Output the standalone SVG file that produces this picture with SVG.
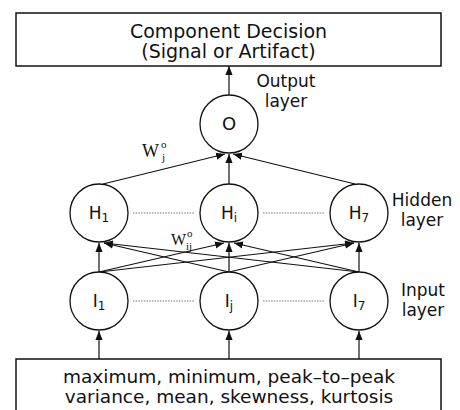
<svg xmlns="http://www.w3.org/2000/svg" width="460" height="410" viewBox="0 0 460 410">
<style>
  .box { fill: #fff; stroke: #111; stroke-width: 1.5; }
  .node circle { fill: #fff; stroke: #111; stroke-width: 1.3; }
  .lbl { font-family: "DejaVu Sans", "Liberation Sans", sans-serif; fill: #111; }
  .ser { font-family: "Liberation Serif", "Times New Roman", serif; fill: #111; }
  .edge { stroke: #111; stroke-width: 1.2; fill: none; marker-end: url(#arr); }
  .dot { stroke: #777; stroke-width: 1; stroke-dasharray: 1.5 1.2; fill: none; }
</style>
<defs>
  <marker id="arr" viewBox="0 0 10 8" refX="10" refY="4" markerWidth="9" markerHeight="7.5" markerUnits="userSpaceOnUse" orient="auto">
    <path d="M0,0 L10,4 L0,8 z" fill="#111"/>
  </marker>
</defs>
<rect width="460" height="410" fill="#fff"/>

<g id="decision">
  <rect class="box" x="16" y="13" width="425" height="53"/>
  <text class="lbl" x="228.5" y="38" font-size="19" text-anchor="middle">Component Decision</text>
  <text class="lbl" x="228.5" y="58" font-size="19" text-anchor="middle">(Signal or Artifact)</text>
</g>

<g id="features">
  <rect class="box" x="16" y="359" width="425" height="60"/>
  <text class="lbl" x="229" y="383" font-size="18.5" text-anchor="middle">maximum, minimum, peak–to–peak</text>
  <text class="lbl" x="229" y="403" font-size="18.5" text-anchor="middle">variance, mean, skewness, kurtosis</text>
</g>

<g id="layer-labels">
  <text class="lbl" x="286" y="87" font-size="17" text-anchor="middle">Output</text>
  <text class="lbl" x="286" y="107" font-size="17" text-anchor="middle">layer</text>
  <text class="lbl" x="422" y="206" font-size="17" text-anchor="middle">Hidden</text>
  <text class="lbl" x="422" y="226" font-size="17" text-anchor="middle">layer</text>
  <text class="lbl" x="423" y="296" font-size="17" text-anchor="middle">Input</text>
  <text class="lbl" x="423" y="316" font-size="17" text-anchor="middle">layer</text>
</g>

<g id="weights">
  <text class="ser" font-size="18"><tspan x="142" y="157">W</tspan><tspan x="161" y="148" font-size="11">o</tspan><tspan x="162" y="161" font-size="11">j</tspan></text>
  <text class="ser" font-size="16"><tspan x="171" y="245">W</tspan><tspan x="187" y="237" font-size="11">o</tspan><tspan x="186" y="250" font-size="11">ij</tspan></text>
</g>

<g id="connectors">
  <line class="edge" x1="229" y1="95" x2="229" y2="66"/>
  <line class="edge" x1="103" y1="184" x2="225" y2="154"/>
  <line class="edge" x1="229" y1="184" x2="229" y2="154"/>
  <line class="edge" x1="355" y1="184" x2="233" y2="154"/>

  <line class="edge" x1="99" y1="272" x2="99" y2="243"/>
  <line class="edge" x1="99" y1="272" x2="224" y2="243"/>
  <line class="edge" x1="99" y1="272" x2="354" y2="243"/>
  <line class="edge" x1="229" y1="272" x2="104" y2="243"/>
  <line class="edge" x1="229" y1="272" x2="229" y2="243"/>
  <line class="edge" x1="229" y1="272" x2="354" y2="243"/>
  <line class="edge" x1="359" y1="272" x2="104" y2="243"/>
  <line class="edge" x1="359" y1="272" x2="234" y2="243"/>
  <line class="edge" x1="359" y1="272" x2="359" y2="243"/>

  <line class="edge" x1="99" y1="359" x2="99" y2="331"/>
  <line class="edge" x1="229" y1="359" x2="229" y2="331"/>
  <line class="edge" x1="359" y1="359" x2="359" y2="331"/>

  <line class="dot" x1="133" y1="213" x2="195" y2="213"/>
  <line class="dot" x1="263" y1="213" x2="325" y2="213"/>
  <line class="dot" x1="133" y1="301" x2="195" y2="301"/>
  <line class="dot" x1="263" y1="301" x2="325" y2="301"/>
</g>

<g id="node-O" class="node">
  <circle cx="229" cy="124" r="29"/>
  <text class="lbl" x="229" y="130" font-size="18" text-anchor="middle">O</text>
</g>
<g id="node-H1" class="node">
  <circle cx="99" cy="213" r="29"/>
  <text class="lbl" x="99" y="219" font-size="17" text-anchor="middle">H<tspan font-size="12" dy="3">1</tspan></text>
</g>
<g id="node-Hi" class="node">
  <circle cx="229" cy="213" r="29"/>
  <text class="lbl" x="229" y="219" font-size="17" text-anchor="middle">H<tspan font-size="12" dy="3">i</tspan></text>
</g>
<g id="node-H7" class="node">
  <circle cx="359" cy="213" r="29"/>
  <text class="lbl" x="359" y="219" font-size="17" text-anchor="middle">H<tspan font-size="12" dy="3">7</tspan></text>
</g>
<g id="node-I1" class="node">
  <circle cx="99" cy="301" r="29"/>
  <text class="lbl" x="99" y="307" font-size="17" text-anchor="middle">I<tspan font-size="12" dy="3">1</tspan></text>
</g>
<g id="node-Ij" class="node">
  <circle cx="229" cy="301" r="29"/>
  <text class="lbl" x="229" y="307" font-size="17" text-anchor="middle">I<tspan font-size="12" dy="3">j</tspan></text>
</g>
<g id="node-I7" class="node">
  <circle cx="359" cy="301" r="29"/>
  <text class="lbl" x="359" y="307" font-size="17" text-anchor="middle">I<tspan font-size="12" dy="3">7</tspan></text>
</g>
</svg>
